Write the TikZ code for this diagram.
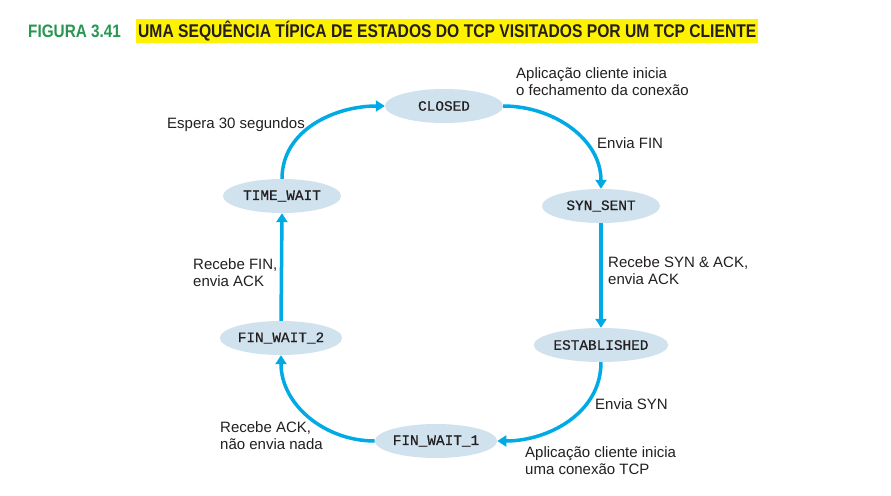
\documentclass[tikz,border=0pt]{standalone}
\usepackage{fontspec}
\setmainfont{Liberation Sans}
\setmonofont[FakeBold=0.6]{Liberation Mono}
\newfontfamily\condfont[FakeStretch=0.85]{Liberation Sans}
\usetikzlibrary{shapes.geometric,arrows.meta}
\definecolor{stateblue}{RGB}{207,226,238}
\definecolor{arrowcyan}{RGB}{0,170,228}
\definecolor{titlegreen}{RGB}{38,150,80}
\definecolor{textgray}{RGB}{35,31,32}
\definecolor{hiyellow}{RGB}{255,242,0}
\begin{document}
\begin{tikzpicture}[x=1pt,y=-1pt,
  state/.style={ellipse,fill=stateblue,minimum width=118pt,minimum height=34pt,inner sep=0pt,
    font=\ttfamily\fontsize{14.4}{14.4}\selectfont,text=textgray},
  trans/.style={line width=3.5pt,draw=arrowcyan,-{Triangle[length=9pt,width=11pt]}},
  lbl/.style={anchor=west,align=left,inner sep=0pt,text=textgray,
    font=\fontsize{15}{17}\selectfont}]
\useasboundingbox (0,0) rectangle (891,495);
\fill[white] (0,0) rectangle (891,495);
% title
\node[anchor=west,inner sep=0pt,text=titlegreen,font=\condfont\bfseries\fontsize{18}{18}\selectfont] (fig) at (28,31) {FIGURA 3.41};
\node[anchor=west,inner sep=2pt,fill=hiyellow,text=textgray,font=\condfont\bfseries\fontsize{18.4}{18.4}\selectfont] (title) at (136,31) {UMA SEQUÊNCIA TÍPICA DE ESTADOS DO TCP VISITADOS POR UM TCP CLIENTE};
% states
\node[state] (closed) at (444,106) {CLOSED};
\node[state] (synsent) at (601,206) {SYN\_SENT};
\node[state] (est) at (601,345) {ESTABLISHED};
\node[state] (fw1) at (436,441) {FIN\_WAIT\_1};
\node[state] (fw2) at (281,338) {FIN\_WAIT\_2};
\node[state] (tw) at (282,196) {TIME\_WAIT};
% transitions
\draw[trans] (closed.east) to[out=0,in=90] (synsent.north);
\draw[trans] (synsent.south) -- (est.north);
\draw[trans] (est.south) to[out=-90,in=0] (fw1.east);
\draw[trans] (fw1.west) to[out=180,in=-90] (fw2.south);
\draw[trans] (fw2.north) -- (tw.south);
\draw[trans] (tw.north) to[out=90,in=180] (closed.west);
% labels
\node[lbl] (l1) at (516,82) {Aplicação cliente inicia\\o fechamento da conexão};
\node[lbl] (l2) at (597,143) {Envia FIN};
\node[lbl] (l3) at (608,271) {Recebe SYN \& ACK,\\envia ACK};
\node[lbl] (l4) at (595,404) {Envia SYN};
\node[lbl] (l5) at (525,461) {Aplicação cliente inicia\\uma conexão TCP};
\node[lbl] (l6) at (220,436) {Recebe ACK,\\não envia nada};
\node[lbl] (l7) at (193,273) {Recebe FIN,\\envia ACK};
\node[lbl] (l8) at (167,125) {Espera 30 segundos};
\end{tikzpicture}
\end{document}
